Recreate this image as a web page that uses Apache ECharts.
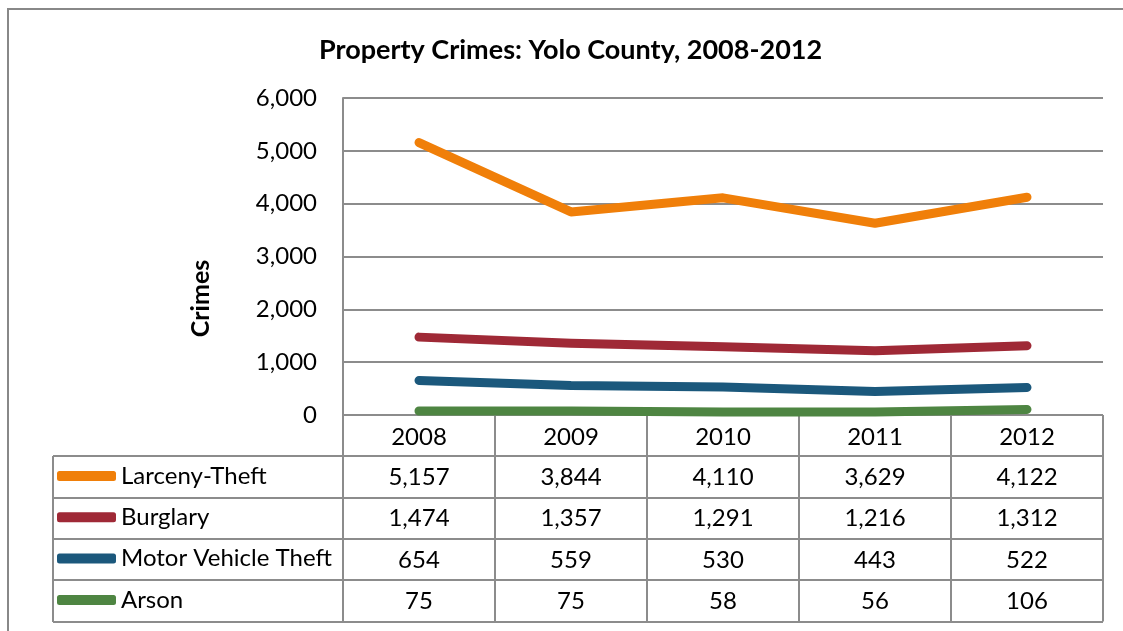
<!DOCTYPE html>
<html>
<head>
<meta charset="utf-8">
<script src="https://cdn.jsdelivr.net/npm/echarts@6/dist/echarts.min.js"></script>
<style>
  html, body { margin: 0; padding: 0; background: #fff; }
  #main { width: 1123px; height: 631px; }
</style>
</head>
<body>
<div id="main"></div>
<script>
const years = ['2008', '2009', '2010', '2011', '2012'];
const seriesNames = ['Larceny-Theft', 'Burglary', 'Motor Vehicle Theft', 'Arson'];
const larceny = [5157, 3844, 4110, 3629, 4122];
const burglary = [1474, 1357, 1291, 1216, 1312];
const motorVehicle = [654, 559, 530, 443, 522];
const arson = [75, 75, 58, 56, 106];
const yTicks = [0, 1000, 2000, 3000, 4000, 5000, 6000];

const allValues = [larceny, burglary, motorVehicle, arson];
const colors = ['#F07F09', '#9F2936', '#1B587C', '#4E8542'];
const font = 'Lato, "Open Sans", sans-serif';
const gridCol = '#8c8c8c';
const rowH = 41.3;
const fs = 24;
const fmt = v => Number(v).toLocaleString('en-US');

let myChart = echarts.init(document.getElementById('main'));

// one hidden-line x axis per table row, so the values sit under their year
let tableAxes = allValues.map(function (vals, k) {
    return {
        type: 'category',
        data: years,
        position: 'bottom',
        offset: rowH * (k + 1),
        axisLine: { show: false },
        axisTick: { show: false },
        splitLine: { show: false },
        axisLabel: {
            margin: 9,
            fontFamily: font,
            fontSize: fs,
            color: '#000',
            formatter: function (v, i) { return fmt(vals[i]); }
        }
    };
});

// table grid lines (row separators + left border)
let tableTop = 415 + rowH;
let tableLines = [];
for (let r = 0; r <= allValues.length; r++) {
    let y = Math.round(tableTop + r * rowH);
    tableLines.push({
        type: 'line',
        shape: { x1: 53, y1: y, x2: 1103, y2: y },
        style: { stroke: gridCol, lineWidth: 2 }
    });
}
tableLines.push({
    type: 'line',
    shape: { x1: 53, y1: Math.round(tableTop), x2: 53, y2: Math.round(tableTop + allValues.length * rowH) },
    style: { stroke: gridCol, lineWidth: 2 }
});

let option = {
    animation: false,
    backgroundColor: '#fff',
    title: {
        text: 'Property Crimes: Yolo County, 2008-2012',
        left: 314,
        top: 32,
        textStyle: { fontFamily: font, fontSize: 27, fontWeight: 'bold', color: '#000' }
    },
    legend: {
        orient: 'vertical',
        left: 57,
        top: 464,
        padding: 0,
        itemWidth: 59,
        itemHeight: 10,
        itemGap: rowH - fs,
        icon: 'roundRect',
        textStyle: { fontFamily: font, fontSize: fs, color: '#000', lineHeight: fs },
        data: seriesNames
    },
    grid: { left: 343, right: 20, top: 98, bottom: 216 },
    xAxis: [{
        type: 'category',
        data: years,
        boundaryGap: true,
        axisLine: { show: false },
        axisTick: {
            show: true,
            interval: 0,
            length: rowH * 5,
            lineStyle: { color: gridCol, width: 2 }
        },
        axisLabel: { margin: 10, fontFamily: font, fontSize: fs, color: '#000' }
    }].concat(tableAxes),
    yAxis: {
        type: 'value',
        min: yTicks[0],
        max: yTicks[yTicks.length - 1],
        interval: 1000,
        name: 'Crimes',
        nameLocation: 'middle',
        nameGap: 130,
        nameTextStyle: { fontFamily: font, fontSize: 25, fontWeight: 'bold', color: '#000', padding: [0, 84, 0, 0] },
        axisLine: { show: true, lineStyle: { color: gridCol, width: 2 } },
        axisTick: { show: false },
        splitLine: { lineStyle: { color: gridCol, width: 2 } },
        axisLabel: { margin: 26, fontFamily: font, fontSize: fs, color: '#000', formatter: fmt }
    },
    series: allValues.map(function (vals, k) {
        return {
            name: seriesNames[k],
            type: 'line',
            data: vals,
            showSymbol: false,
            symbol: 'none',
            color: colors[k],
            lineStyle: { width: 9, cap: 'round', join: 'round', color: colors[k] },
            z: 10 - k
        };
    }),
    graphic: [{
        type: 'rect',
        shape: { x: 8, y: 9, width: 1200, height: 700 },
        style: { fill: 'none', stroke: '#888', lineWidth: 2 },
        silent: true
    }].concat(tableLines)
};

myChart.setOption(option);
</script>
</body>
</html>
